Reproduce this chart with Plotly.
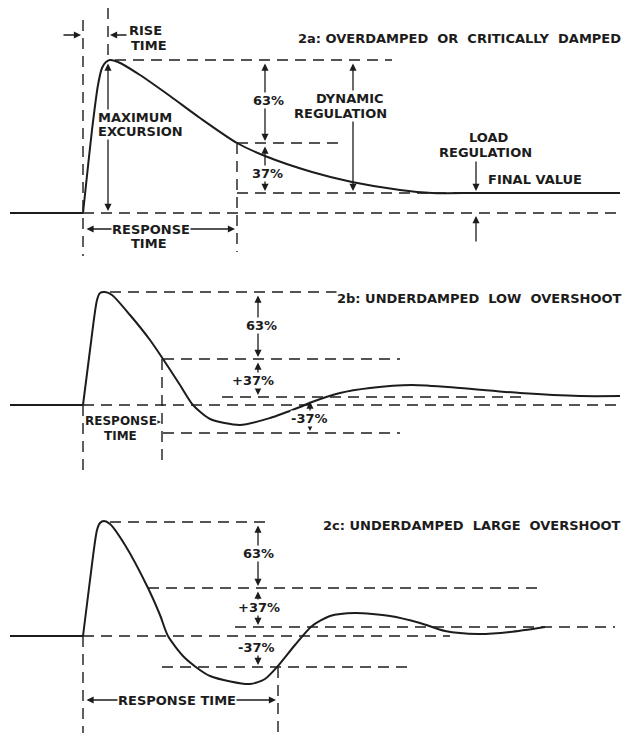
import plotly.graph_objects as go

# ---------------- data (pixel units) ----------------
# Panel 2a: overdamped / critically damped response
t_a = [83, 86, 92, 98, 102, 106, 110, 118, 140, 170, 200, 237, 265, 312, 352, 400, 432, 480, 620]
v_a = [213, 185, 130, 85, 68, 62, 60, 62, 75, 96, 118, 143, 156, 172, 182, 190, 193, 193, 193]
# Panel 2b: underdamped, low overshoot
t_b = [83, 90, 97, 100, 105, 112, 130, 150, 163, 180, 193, 210, 240, 270, 300, 312, 340, 370, 412, 460, 520, 580, 620]
v_b = [405, 350, 300, 293, 292, 295, 315, 340, 359, 385, 405, 419, 425, 418, 407, 402, 393, 388, 385, 388, 393, 396, 396]
# Panel 2c: underdamped, large overshoot
t_c = [83, 90, 97, 100, 104, 110, 125, 148, 160, 168, 185, 210, 250, 265, 278, 295, 312, 330, 355, 390, 420, 445, 478, 510, 545]
v_c = [636, 580, 530, 523, 521, 524, 545, 588, 615, 636, 658, 676, 684, 679, 666, 645, 626, 616, 613, 616, 623, 631, 634, 632, 627]

baseline_start = 10
panels = [
    dict(t=t_a, v=v_a, base=213),
    dict(t=t_b, v=v_b, base=405),
    dict(t=t_c, v=v_c, base=636),
]

# dashed guide lines: (x0, y0, x1, y1)
dashed = [
    # 2a
    (115, 60, 392, 60), (237, 143, 344, 143), (237, 193, 470, 193), (83, 213, 620, 213),
    (83, 20, 83, 256), (108, 8, 108, 58), (237, 143, 237, 252),
    # 2b
    (110, 292, 400, 292), (163, 359, 400, 359), (222, 397, 525, 397), (83, 405, 620, 405),
    (163, 433, 400, 433), (83, 405, 83, 472), (162, 359, 162, 465),
    # 2c
    (110, 522, 268, 522), (148, 588, 540, 588), (235, 627, 615, 627), (83, 636, 450, 636),
    (162, 667, 409, 667), (83, 636, 83, 733), (278, 667, 278, 733),
]

# arrows: (x_tail, y_tail, x_head, y_head, both_ends)
arrows = [
    # 2a
    (62, 35, 81, 35, False), (128, 35, 110, 35, False),
    (108, 62, 108, 211, True),
    (265, 62, 265, 141, True), (265, 145, 265, 191, True),
    (353, 62, 353, 191, True),
    (476, 160, 476, 191, False), (476, 243, 476, 216, False),
    (85, 229, 235, 229, True),
    # 2b
    (258, 294, 258, 357, True), (258, 361, 258, 395, True),
    (310, 400, 310, 431, True),
    (84, 422, 161, 422, True),
    # 2c
    (258, 524, 258, 586, True), (258, 590, 258, 625, True), (258, 638, 258, 665, True),
    (85, 700, 276, 700, True),
]

# labels: (text, x, y, anchor, size)
labels = [
    ("RISE", 128, 30, "left", 13), ("TIME", 130, 45, "left", 13),
    ("2a: OVERDAMPED  OR  CRITICALLY  DAMPED", 622, 38, "right", 13),
    ("MAXIMUM", 97, 117, "left", 13), ("EXCURSION", 97, 131, "left", 13),
    ("63%", 268, 100, "center", 13), ("37%", 267, 173, "center", 13),
    ("DYNAMIC", 350, 98, "center", 13), ("REGULATION", 340, 113, "center", 13),
    ("LOAD", 489, 137, "center", 13), ("REGULATION", 485, 152, "center", 13),
    ("FINAL VALUE", 487, 179, "left", 13),
    ("RESPONSE", 151, 229, "center", 13), ("TIME", 149, 243, "center", 13),
    ("2b: UNDERDAMPED  LOW  OVERSHOOT", 622, 298, "right", 13),
    ("63%", 261, 325, "center", 13), ("+37%", 253, 380, "center", 13), ("-37%", 290, 418, "left", 13),
    ("RESPONSE", 121, 421, "center", 12), ("TIME", 120, 436, "center", 12),
    ("2c: UNDERDAMPED  LARGE  OVERSHOOT", 622, 525, "right", 13),
    ("63%", 258, 553, "center", 13), ("+37%", 259, 607, "center", 13), ("-37%", 256, 647, "center", 13),
    ("RESPONSE TIME", 177, 700, "center", 13),
]

INK = "#1c1c1c"
FAMILY = "DejaVu Sans, Arial, sans-serif"

fig = go.Figure()

for p in panels:
    fig.add_trace(go.Scatter(x=[baseline_start, p["t"][0]], y=[p["base"], p["base"]], mode="lines",
                             line=dict(color=INK, width=1.8), hoverinfo="skip", showlegend=False))
    fig.add_trace(go.Scatter(x=p["t"], y=p["v"], mode="lines",
                             line=dict(color=INK, width=2, shape="spline", smoothing=0.7),
                             hoverinfo="skip", showlegend=False))

shapes = []
for x0, y0, x1, y1 in dashed:
    shapes.append(dict(type="line", x0=x0, y0=y0, x1=x1, y1=y1, xref="x", yref="y",
                       line=dict(color=INK, width=1.4, dash="11px,7px"), layer="below"))

annotations = []
for xt, yt, xh, yh, both in arrows:
    annotations.append(dict(x=xh, y=yh, ax=xt, ay=yt, xref="x", yref="y", axref="x", ayref="y",
                            text="", showarrow=True, arrowhead=2, arrowsize=1.1, arrowwidth=1.3,
                            arrowcolor=INK, arrowside="end+start" if both else "end",
                            standoff=0, startstandoff=0))

for text, x, y, anchor, size in labels:
    annotations.append(dict(x=x, y=y, xref="x", yref="y", text="<b>%s</b>" % text,
                            showarrow=False, xanchor=anchor, yanchor="middle",
                            font=dict(family=FAMILY, size=size, color=INK),
                            bgcolor="white", borderpad=0))

fig.update_layout(
    width=624, height=733, margin=dict(l=0, r=0, t=0, b=0),
    paper_bgcolor="white", plot_bgcolor="white",
    xaxis=dict(range=[0, 624], visible=False, fixedrange=True),
    yaxis=dict(range=[733, 0], visible=False, fixedrange=True),
    shapes=shapes, annotations=annotations, showlegend=False,
)

fig.write_html("out.html", config={"displayModeBar": False},
               post_script="document.body.style.margin='0';document.body.style.overflow='hidden';")
